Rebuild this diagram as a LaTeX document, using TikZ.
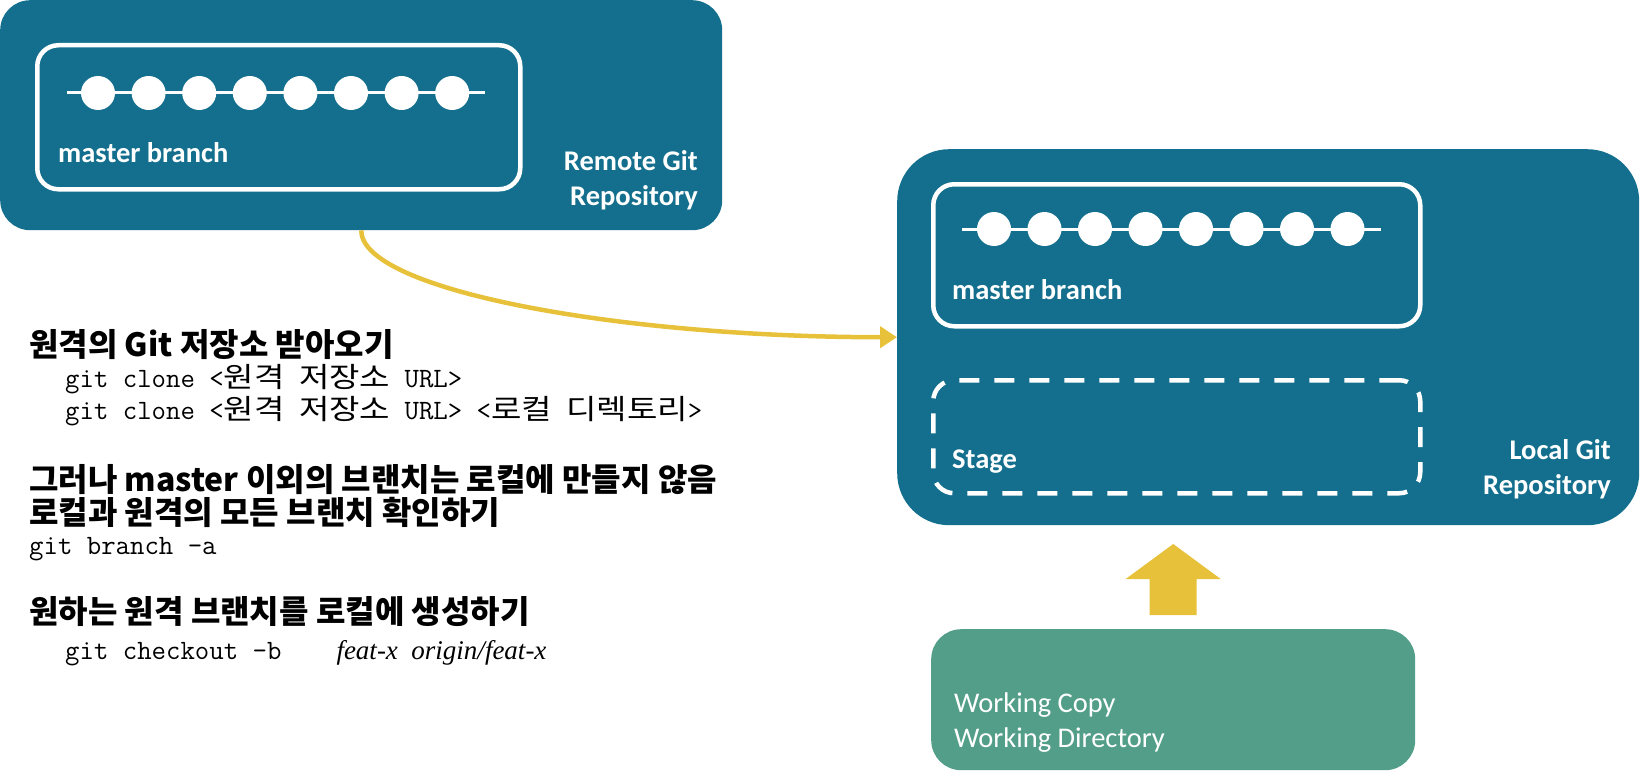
\documentclass[tikz,border=0pt]{standalone}
\usepackage{fontspec}
\setmainfont{Carlito}
\newfontfamily\krfont{Noto Sans CJK KR}
\newfontfamily\krwide{Noto Sans CJK KR}[FakeStretch=1.18]
\newfontfamily\cmdfont{Latin Modern Mono}
\newfontfamily\argfont{Liberation Serif}
\usetikzlibrary{arrows.meta}
\definecolor{repoblue}{RGB}{19,111,141}
\definecolor{workgreen}{RGB}{83,158,137}
\definecolor{pullyellow}{RGB}{232,193,59}
\newcommand\boxsize{\fontsize{28.5}{34.5}\selectfont}
\newcommand\headsize{\krfont\bfseries\fontsize{32}{36}\selectfont}
\newcommand\cmdsize{\cmdfont\fontsize{28}{30}\selectfont}
\newcommand\kc[1]{{\krwide\fontsize{28}{30}\selectfont #1}}
\tikzset{repo/.style={fill=repoblue, rounded corners=30pt, anchor=north west, inner sep=0pt},
    branchbox/.style={draw=white, line width=4.5pt, rounded corners=21pt, anchor=north west, inner sep=0pt},
    commit/.style={circle, fill=white, minimum size=34pt, inner sep=0pt},
    lbl/.style={text=white, font=\boxsize\bfseries, inner sep=0pt},
    headline/.style={anchor=base west, inner sep=0pt, font=\headsize},
    cmdline/.style={anchor=base west, inner sep=0pt, font=\cmdsize},
    }

\begin{document}
\begin{tikzpicture}[x=1pt,y=-1pt]
	\useasboundingbox (0,0) rectangle (1640,773);
	% remote repository
	\node[repo, minimum width=722pt, minimum height=230pt] (remote) at (0,0) {};
	\node[branchbox, minimum width=483pt, minimum height=144pt] (rbranch) at (35,43) {};
	\foreach \i in {0,...,7} \node[commit] (rc\i) at (98+50.6*\i,93) {};
	\draw[white, line width=3pt] ([xshift=-31pt]rc0.center) -- ([xshift=33pt]rc7.center);
	\node[lbl, anchor=base west] (rname) at (58,162) {master branch};
	\node[lbl, anchor=east, align=right] (rtitle) at (698,180) {Remote Git\\Repository};
	% local repository
	\node[repo, rounded corners=52pt, minimum width=742pt, minimum height=376pt] (local) at (897,149) {};
	\node[branchbox, minimum width=487pt, minimum height=142pt] (lbranch) at (931,182) {};
	\foreach \i in {0,...,7} \node[commit] (lc\i) at (994+50.5*\i,229) {};
	\draw[white, line width=3pt] ([xshift=-32pt]lc0.center) -- ([xshift=33pt]lc7.center);
	\node[lbl, anchor=base west] (lname) at (952,299) {master branch};
	\node[branchbox, dash pattern=on 20pt off 15pt, minimum width=487pt, minimum height=113pt] (stage) at (931,378) {};
	\node[lbl, anchor=base west] (sname) at (952,468) {Stage};
	\node[lbl, anchor=east, align=right] (ltitle) at (1611,469) {Local Git\\Repository};
	% working copy
	\node[repo, fill=workgreen, minimum width=484pt, minimum height=141pt] (work) at (931,629) {};
	\node[text=white, font=\boxsize, anchor=base west, inner sep=0pt] (wname) at (954,712) {Working Copy};
	\node[text=white, font=\boxsize, anchor=base west, inner sep=0pt] (wdir) at (954,747) {Working Directory};
	\coordinate (push) at ([yshift=85pt]work.north);
	\fill[pullyellow] (push) -- ++(47.5,35) -- ++(-24,0) -- ++(0,36) -- ++(-47,0) -- ++(0,-36) -- ++(-24,0) -- cycle;
	\draw[pullyellow, line width=4.5pt, -{Triangle[length=17pt,width=21pt]}] (remote.south) .. controls +(0,60) and +(-277,0) .. (local.west);
	% commands
	\node[headline] (h1) at (29,356) {원격의 Git 저장소 받아오기};
	\node[cmdline] (c1) at (65,387) {git clone <\kc{원격}\ \kc{저장소} URL>};
	\node[cmdline] (c2) at (65,419) {git clone <\kc{원격}\ \kc{저장소} URL> <\kc{로컬}\ \kc{디렉토리}>};
	\node[headline] (h2) at (29,491) {그러나 master 이외의 브랜치는 로컬에 만들지 않음};
	\node[headline] (h3) at (29,524) {로컬과 원격의 모든 브랜치 확인하기};
	\node[cmdline] (c3) at (29,554) {git branch -a};
	\node[headline] (h4) at (29,623) {원하는 원격 브랜치를 로컬에 생성하기};
	\node[cmdline] (c4) at (65,659) {git checkout -b\hspace{55pt}{\argfont\itshape\fontsize{27}{28}\selectfont feat-x\ \ origin/feat-x}};
\end{tikzpicture}
\end{document}
